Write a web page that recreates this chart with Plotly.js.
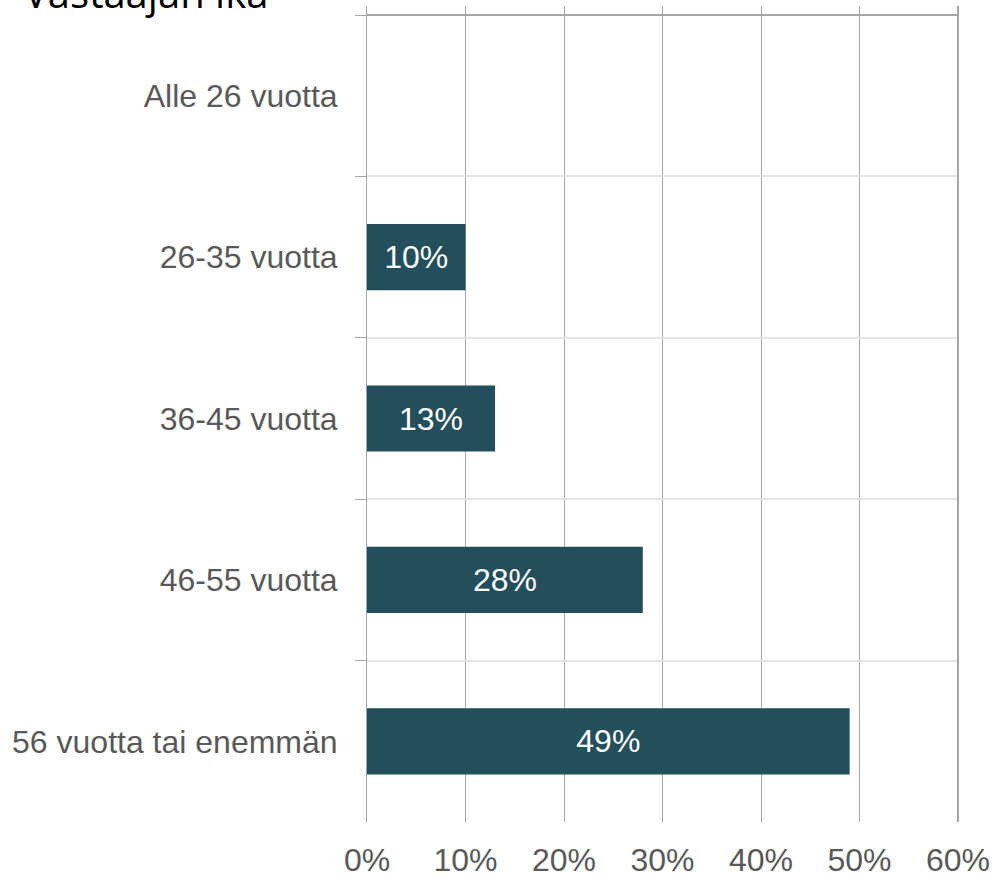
<!DOCTYPE html>
<html>
<head>
<meta charset="utf-8">
<script src="https://cdn.plot.ly/plotly-3.0.1.min.js"></script>
<style>
html,body{margin:0;padding:0;background:#fff;}
#chart{width:997px;height:877px;}
</style>
</head>
<body>
<div id="chart"></div>
<script>
const chartTitle = "Vastaajan ikä";
const categories = ["Alle 26 vuotta", "26-35 vuotta", "36-45 vuotta", "46-55 vuotta", "56 vuotta tai enemmän"];
const values = [0, 10, 13, 28, 49];
const xTickValues = [0, 10, 20, 30, 40, 50, 60];
const xTickLabels = ["0%", "10%", "20%", "30%", "40%", "50%", "60%"];

const barLabels = values.map(v => v > 0 ? v + "%" : "");

const trace = {
  type: "bar",
  orientation: "h",
  x: values,
  y: categories,
  text: barLabels,
  textposition: "inside",
  insidetextanchor: "middle",
  textfont: {family: "Liberation Sans, Arial, sans-serif", size: 32, color: "#ffffff"},
  constraintext: "none",
  marker: {color: "#234e5c", line: {width: 0}},
  hoverinfo: "none"
};

const layout = {
  width: 997,
  height: 877,
  margin: {l: 367, r: 39, t: 6, b: 55, pad: 0},
  paper_bgcolor: "#ffffff",
  plot_bgcolor: "#ffffff",
  showlegend: false,
  bargap: 0.59,
  font: {family: "Liberation Sans, Arial, sans-serif", size: 32, color: "#595959"},
  xaxis: {
    range: [0, 60],
    tickmode: "array",
    tickvals: xTickValues,
    ticktext: xTickLabels,
    showgrid: true,
    gridcolor: "#a6a6a6",
    gridwidth: 1,
    zeroline: false,
    showline: false,
    ticks: "",
    ticklabelstandoff: 16,
    tickfont: {family: "Liberation Sans, Arial, sans-serif", size: 32, color: "#595959"},
    fixedrange: true
  },
  yaxis: {
    type: "category",
    categoryorder: "array",
    categoryarray: categories,
    range: [4.5, -0.556],
    tickson: "boundaries",
    ticks: "outside",
    ticklen: 11,
    tickcolor: "#a6a6a6",
    tickwidth: 1,
    showgrid: true,
    gridcolor: "#e3e3e3",
    gridwidth: 2,
    showline: true,
    linecolor: "#a6a6a6",
    linewidth: 1,
    zeroline: false,
    ticklabelstandoff: 22,
    tickfont: {family: "Liberation Sans, Arial, sans-serif", size: 32, color: "#595959"},
    fixedrange: true
  },
  shapes: [
    {type: "line", xref: "paper", yref: "y", x0: 0, x1: 1, y0: -0.5, y1: -0.5,
     line: {color: "#a6a6a6", width: 2}},
    {type: "line", xref: "paper", yref: "paper", x0: 1, x1: 1, y0: 0, y1: 1,
     line: {color: "#a6a6a6", width: 2}}
  ],
  annotations: [
    {text: chartTitle, xref: "paper", yref: "paper", x: -0.584, y: 1, xanchor: "left", yanchor: "middle",
     yshift: 14, showarrow: false,
     font: {family: "Open Sans, Noto Sans, sans-serif", size: 40, color: "#000000"}}
  ]
};

Plotly.newPlot("chart", [trace], layout, {displayModeBar: false, staticPlot: true});
</script>
</body>
</html>
